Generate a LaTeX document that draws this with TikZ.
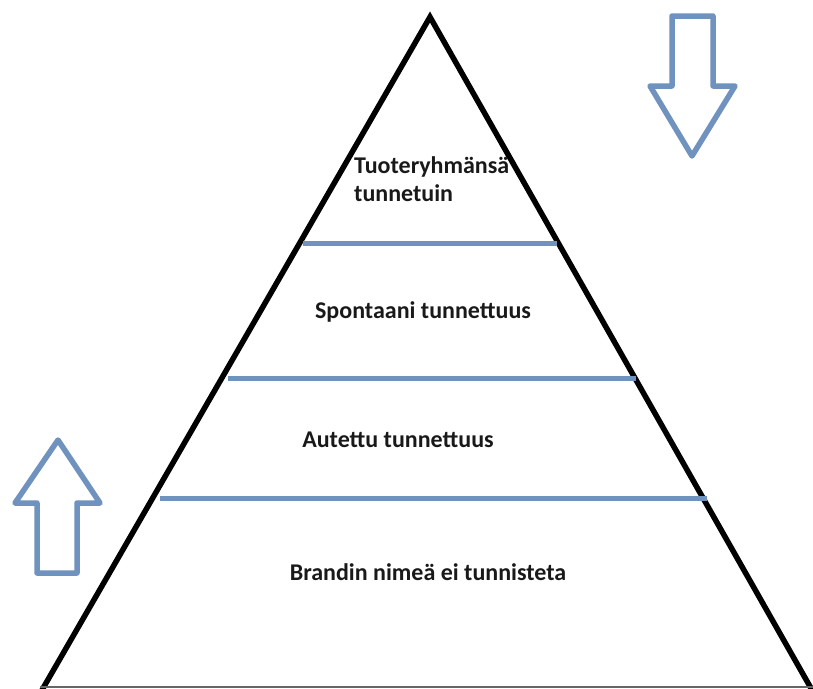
\documentclass[tikz,border=0pt]{standalone}
\usepackage{fontspec}
\setmainfont{Carlito}
\definecolor{levelblue}{RGB}{112,146,190}
\begin{document}
\begin{tikzpicture}[x=1pt,y=-1pt,
  edge/.style={line width=5.5pt,black,line join=miter},
  level/.style={line width=5pt,levelblue},
  bigarrow/.style={line width=5.5pt,levelblue,line join=round,fill=white},
  lbl/.style={font=\fontsize{24}{28}\selectfont\bfseries,inner sep=0pt,text=black!90}]
\useasboundingbox[fill=white] (0,0) rectangle (813,688);
% pyramid outline
\coordinate (apex) at (430,17);
\coordinate (bl) at (42,690);
\coordinate (br) at (812,690);
\draw[edge] (bl) -- (apex) -- (br);
\draw[line width=1.5pt,black!60] (40,687) -- (813,687);
% level separators
\coordinate (l1a) at (303,243); \coordinate (l1b) at (557,243);
\coordinate (l2a) at (228,378); \coordinate (l2b) at (636,378);
\coordinate (l3a) at (160,498); \coordinate (l3b) at (707,498);
\draw[level] (l1a) -- (l1b);
\draw[level] (l2a) -- (l2b);
\draw[level] (l3a) -- (l3b);
% level labels
\node[lbl,anchor=west,align=left] (t1) at (354,179) {Tuoteryhmänsä\\tunnetuin};
\node[lbl] (t2) at (423,312) {Spontaani tunnettuus};
\node[lbl] (t3) at (398,440) {Autettu tunnettuus};
\node[lbl] (t4) at (428,572) {Brandin nimeä ei tunnisteta};
% downward block arrow
\draw[bigarrow] (672,16) -- (713,16) -- (713,86) -- (735,86) -- (692,156)
  -- (650,86) -- (672,86) -- cycle;
% upward block arrow
\draw[bigarrow] (37,573) -- (77,573) -- (77,503) -- (100,503) -- (58,440)
  -- (15,503) -- (37,503) -- cycle;
\end{tikzpicture}
\end{document}
